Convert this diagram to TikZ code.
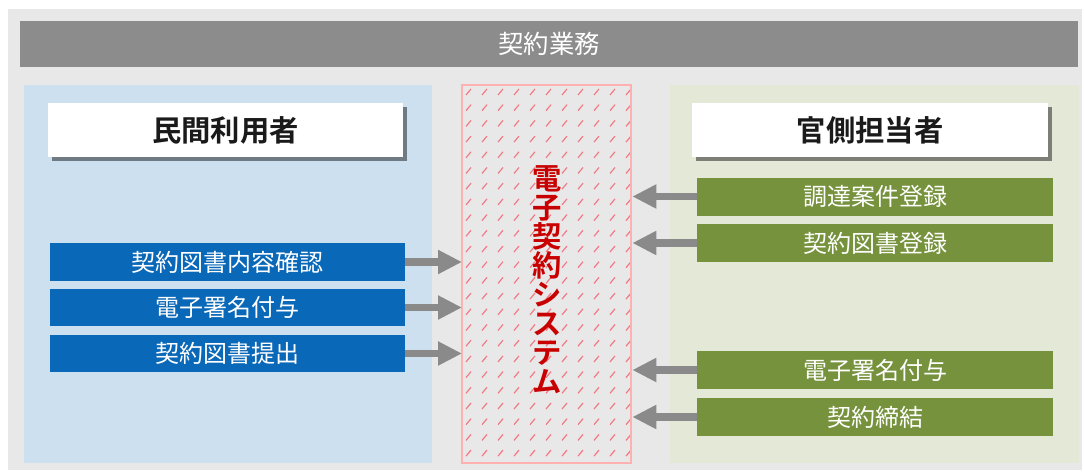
\documentclass[tikz,border=0pt]{standalone}
\usepackage{fontspec}
\setmainfont{Noto Sans CJK JP}[BoldFont={Noto Sans CJK JP Bold}]
\usetikzlibrary{arrows.meta,shadows}
\definecolor{outerbg}{HTML}{E8E8E8}
\definecolor{barc}{HTML}{8C8C8C}
\definecolor{leftbg}{HTML}{CDE0F0}
\definecolor{rightbg}{HTML}{E4E9D7}
\definecolor{bluebox}{HTML}{0A68B8}
\definecolor{greenbox}{HTML}{76923C}
\definecolor{arrowc}{HTML}{8A8A8A}
\definecolor{hatchc}{HTML}{F07A86}
\definecolor{sysborder}{HTML}{FFB0B0}
\definecolor{systext}{HTML}{C80000}
\definecolor{headtext}{HTML}{1A1A1A}
\newdimen\px \px=0.75pt
\tikzset{
  box/.style={rectangle, inner sep=0pt, outer sep=0pt},
  titlebar/.style={box, fill=barc, text=white, font=\fontsize{19pt}{22pt}\selectfont},
  panel/.style={box},
  headbox/.style={box, fill=white, text=headtext, font=\bfseries\fontsize{22pt}{26pt}\selectfont,
    drop shadow={shadow xshift=3pt, shadow yshift=-3pt, opacity=0.45, fill=black}},
  bluestep/.style={box, fill=bluebox, text=white, minimum width=355\px, font=\fontsize{18pt}{22pt}\selectfont},
  greenstep/.style={box, fill=greenbox, text=white, minimum width=356\px, font=\fontsize{18pt}{22pt}\selectfont},
  flow/.style={draw=arrowc, line width=5.5pt, -{Triangle[length=18pt, width=17pt]}},
  hatch/.style={draw=hatchc, line width=0.9pt},
}
\begin{document}
\begin{tikzpicture}[x=0.75pt, y=-0.75pt]
\useasboundingbox (0,0) rectangle (1084,474);
\fill[outerbg] (8,9) rectangle (1082,470);

\node[titlebar, minimum width=1058\px, minimum height=46\px] (title) at (549,44) {契約業務};

\node[panel, fill=leftbg, minimum width=408\px, minimum height=378\px] (left) at (228,274) {};
\node[panel, fill=rightbg, minimum width=409\px, minimum height=378\px] (right) at (874.5,274) {};
\node[panel, minimum width=169\px, minimum height=378\px] (sys) at (546.5,274) {};

\begin{scope}
  \clip (sys.south west) rectangle (sys.north east);
  \foreach \i in {0,...,10}
    \foreach \j in {0,...,23}
      \draw[hatch] (466+16*\i, 95+15.7*\j) -- ++(5,-6);
\end{scope}
\draw[sysborder, line width=1pt] (sys.south west) rectangle (sys.north east);

\node[font=\bfseries\fontsize{22pt}{21.75pt}\selectfont, text=systext, align=center, inner sep=0pt] (systitle) at (547,280)
  {電\\子\\契\\約\\シ\\ス\\テ\\ム};

\node[headbox, minimum width=355\px, minimum height=54\px] (lhead) at (225.5,130) {民間利用者};
\node[headbox, minimum width=356\px, minimum height=54\px] (rhead) at (870,130) {官側担当者};

\node[bluestep, minimum height=38\px] (b1) at (227.5,262) {契約図書内容確認};
\node[bluestep, minimum height=37\px] (b2) at (227.5,307.5) {電子署名付与};
\node[bluestep, minimum height=37\px] (b3) at (227.5,353.5) {契約図書提出};

\node[greenstep, minimum height=38\px] (g1) at (875,196.5) {調達案件登録};
\node[greenstep, minimum height=38\px] (g2) at (875,243) {契約図書登録};
\node[greenstep, minimum height=38\px] (g3) at (875,370) {電子署名付与};
\node[greenstep, minimum height=38\px] (g4) at (875,417) {契約締結};

\foreach \b in {b1,b2,b3}
  \draw[flow] (\b.east) -- (\b.east -| sys.west);
\foreach \g in {g1,g2,g3,g4}
  \draw[flow] (\g.west) -- ([xshift=1pt]\g.west -| sys.east);
\end{tikzpicture}
\end{document}
